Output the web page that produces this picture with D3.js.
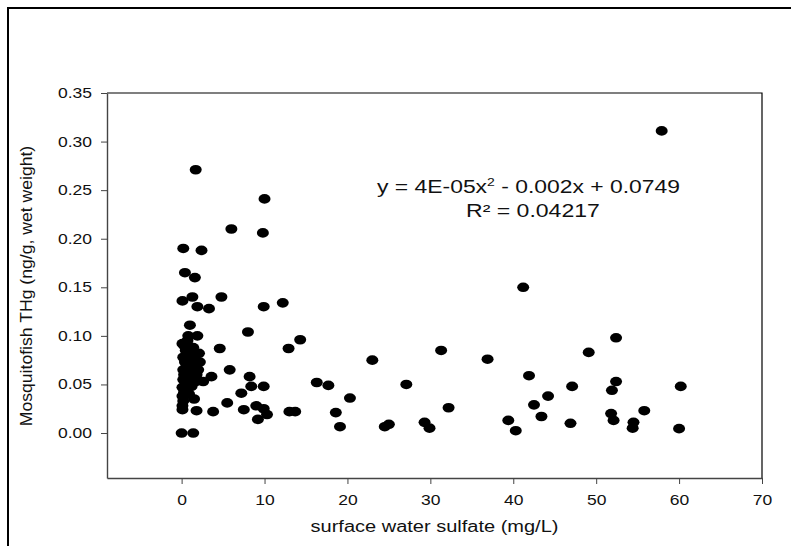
<!DOCTYPE html>
<html>
<head>
<meta charset="utf-8">
<script src="https://cdn.jsdelivr.net/npm/d3@7"></script>
<style>
  body { margin: 0; background: #fff; }
  text { font-family: "Liberation Sans", Arial, sans-serif; fill: #111; }
</style>
</head>
<body>
<svg id="chart" width="791" height="546"></svg>
<script>
// sulfate (mg/L) and mosquitofish THg (ng/g wet weight)
let sulfate = [57.9, 1.7, 10.0, 6.0, 9.8, 0.2, 2.4, 0.4, 1.6, 1.3, 4.8, 0.1, 1.9, 3.3, 9.9, 12.2,
  1.0, 8.0, 0.8, 1.9, 14.3, 4.6, 12.9, 23.0, 31.3, 36.9, 5.8, 3.6, 8.2, 2.6, 8.4, 9.9, 7.2, 5.5,
  7.5, 1.8, 3.8, 9.0, 9.9, 10.3, 9.2, 0.0, 1.4, 0.1,
  16.3, 17.7, 27.1, 20.3, 32.2, 18.6, 13.0, 13.7, 19.1, 24.5, 25.0, 29.3, 29.9,
  41.2, 52.4, 49.1, 41.9, 47.1, 52.4, 51.9, 60.2, 44.2, 42.5, 43.4, 55.8, 51.8, 52.1, 39.4, 40.3,
  46.9, 54.5, 54.4, 60.0,
  0.1, 0.2, 0.1, 0.3, 0.1, 0.5, 0.2, 0.8, 0.3, 1.0, 0.2, 0.6, 1.3, 0.4, 1.6, 0.2, 1.0, 2.1, 0.5,
  0.3, 1.4, 0.7, 1.8, 1.2, 0.9, 1.5, 2.0, 1.7, 0.1, 2.2]
let thg = [0.311, 0.271, 0.241, 0.210, 0.206, 0.190, 0.188, 0.165, 0.160, 0.140, 0.140, 0.136, 0.130, 0.128, 0.130, 0.134,
  0.111, 0.104, 0.100, 0.100, 0.096, 0.087, 0.087, 0.075, 0.085, 0.076, 0.065, 0.058, 0.058, 0.053, 0.048, 0.048, 0.041, 0.031,
  0.024, 0.023, 0.022, 0.028, 0.025, 0.019, 0.014, 0.0, 0.0, 0.024,
  0.052, 0.049, 0.050, 0.036, 0.026, 0.021, 0.022, 0.022, 0.0065, 0.0065, 0.009, 0.011, 0.005,
  0.150, 0.098, 0.083, 0.059, 0.048, 0.053, 0.044, 0.048, 0.038, 0.029, 0.017, 0.023, 0.020, 0.013, 0.013, 0.0024,
  0.010, 0.011, 0.005, 0.0045,
  0.028, 0.033, 0.038, 0.042, 0.047, 0.050, 0.055, 0.057, 0.060, 0.062, 0.065, 0.068, 0.070, 0.073, 0.075, 0.078, 0.080, 0.082, 0.085,
  0.090, 0.088, 0.095, 0.060, 0.048, 0.040, 0.035, 0.065, 0.053, 0.092, 0.073]

let xTicks = [0, 10, 20, 30, 40, 50, 60, 70]
let yTicks = [0, 0.05, 0.10, 0.15, 0.20, 0.25, 0.30, 0.35]
let equation = ["y = 4E-05x", "2", " - 0.002x + 0.0749"]
let rSquared = "R\u00b2 = 0.04217"

let svg = d3.select("#chart")

// outer frame, cut at right and bottom
svg.append("path")
  .attr("d", "M8,546V8H791")
  .attr("fill", "none")
  .attr("stroke", "#000")
  .attr("stroke-width", 2)

let pLeft = 107, pTop = 93, pRight = 762, pBottom = 478

let x = d3.scaleLinear().domain([-9, 70]).range([pLeft, pRight])
let y = d3.scaleLinear().domain([-0.0463, 0.35]).range([pBottom, pTop])

// stretch the text sideways like the picture
const stretch = (sel, k) => {
  sel.each(function () {
    let w = this.getComputedTextLength()
    d3.select(this).attr("textLength", w * k).attr("lengthAdjust", "spacingAndGlyphs")
  })
}

// top and right border
svg.append("path")
  .attr("d", "M" + pLeft + "," + pTop + "H" + pRight + "V" + pBottom)
  .attr("fill", "none")
  .attr("stroke", "#000")
  .attr("stroke-width", 1.2)

let gx = svg.append("g")
  .attr("transform", "translate(0," + pBottom + ")")
  .call(d3.axisBottom(x).tickValues(xTicks).tickSize(6).tickSizeOuter(0).tickFormat(d3.format("d")))
gx.select(".domain").attr("stroke", "#444").attr("stroke-width", 1.4)
gx.selectAll(".tick line").attr("stroke", "#444")
gx.selectAll(".tick text")
  .attr("font-size", "14px")
  .attr("font-family", "Liberation Sans, Arial, sans-serif")
  .attr("dy", "0")
  .attr("y", 27)
  .call(stretch, 1.25)

let gy = svg.append("g")
  .attr("transform", "translate(" + pLeft + ",0)")
  .call(d3.axisLeft(y).tickValues(yTicks).tickSize(6).tickSizeOuter(0).tickFormat(d3.format(".2f")))
gy.select(".domain").attr("stroke", "#444").attr("stroke-width", 1.4)
gy.selectAll(".tick line").attr("stroke", "#444")
gy.selectAll(".tick text")
  .attr("font-size", "14px")
  .attr("font-family", "Liberation Sans, Arial, sans-serif")
  .attr("x", -15)
  .call(stretch, 1.25)

svg.append("text")
  .attr("x", (pLeft + pRight) / 2)
  .attr("y", 532)
  .attr("text-anchor", "middle")
  .attr("font-size", "16px")
  .text("surface water sulfate (mg/L)")
  .call(stretch, 1.25)

svg.append("text")
  .attr("transform", "translate(32," + 286 + ") rotate(-90)")
  .attr("text-anchor", "middle")
  .attr("font-size", "16px")
  .text("Mosquitofish THg (ng/g, wet weight)")
  .call(stretch, 1.1)

// points
svg.selectAll("ellipse")
  .data(sulfate)
  .enter()
  .append("ellipse")
  .attr("cx", (d) => { return x(d) })
  .attr("cy", (d, i) => { return y(thg[i]) })
  .attr("rx", 6)
  .attr("ry", 4.8)
  .attr("fill", "#000")

// fit label
let eq = svg.append("text")
  .attr("x", 377)
  .attr("y", 193)
  .attr("font-size", "18px")
eq.append("tspan").text(equation[0])
eq.append("tspan").attr("font-size", "11px").attr("dy", -7).text(equation[1])
eq.append("tspan").attr("dy", 7).text(equation[2])
eq.attr("textLength", 303).attr("lengthAdjust", "spacingAndGlyphs")

svg.append("text")
  .attr("x", 466)
  .attr("y", 217)
  .attr("font-size", "18px")
  .text(rSquared)
  .call(stretch, 1.28)
</script>
</body>
</html>
